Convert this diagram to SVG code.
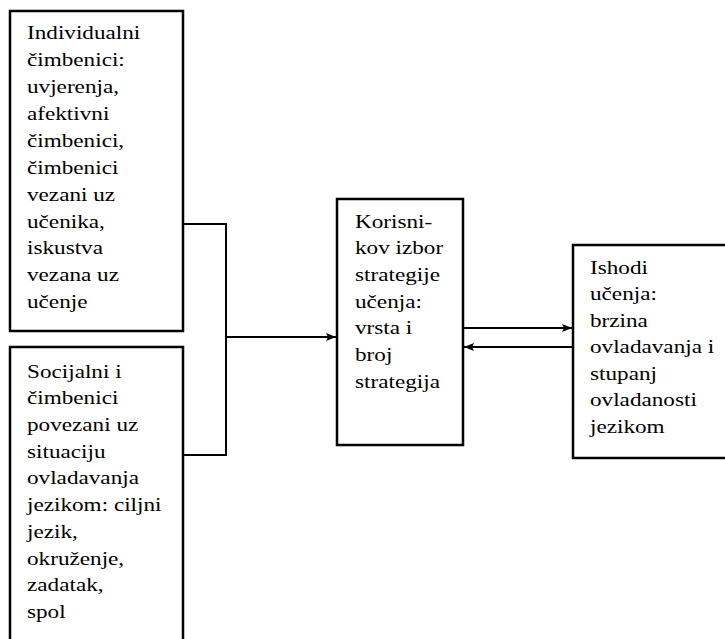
<svg xmlns="http://www.w3.org/2000/svg" width="725" height="639" viewBox="0 0 725 639">
<defs>
<style>
.box{fill:#fff;stroke:#000;stroke-width:2.5}
.lbl{font-family:"Liberation Serif","Times New Roman",serif;font-size:19px;fill:#000}
.con{fill:none;stroke:#000;stroke-width:2}
</style>
<marker id="ah" viewBox="0 0 10 8" refX="10" refY="4" markerWidth="10" markerHeight="8" markerUnits="userSpaceOnUse" orient="auto">
<path d="M0,0 L10,4 L0,8 L2,4 Z" fill="#000"/>
</marker>
</defs>
<rect width="725" height="639" fill="#fff"/>
<g id="connectors">
<path class="con" d="M183,224 H226 V455 H183"/>
<path class="con" d="M226,337 H336" marker-end="url(#ah)"/>
<path class="con" d="M463,328 H572" marker-end="url(#ah)"/>
<path class="con" d="M573,347 H464" marker-end="url(#ah)"/>
</g>
<g id="individualni">
<rect class="box" x="10" y="11" width="173" height="320"/>
<text class="lbl" transform="matrix(1.22 0 0 1 27 39.3)">
<tspan x="0" y="0">Individualni</tspan>
<tspan x="0" dy="26.9">čimbenici:</tspan>
<tspan x="0" dy="26.9">uvjerenja,</tspan>
<tspan x="0" dy="26.9">afektivni</tspan>
<tspan x="0" dy="26.9">čimbenici,</tspan>
<tspan x="0" dy="26.9">čimbenici</tspan>
<tspan x="0" dy="26.9">vezani uz</tspan>
<tspan x="0" dy="26.9">učenika,</tspan>
<tspan x="0" dy="26.9">iskustva</tspan>
<tspan x="0" dy="26.9">vezana uz</tspan>
<tspan x="0" dy="26.9">učenje</tspan>
</text>
</g>
<g id="socijalni">
<rect class="box" x="10" y="347" width="173" height="310"/>
<text class="lbl" transform="matrix(1.22 0 0 1 27 377.7)">
<tspan x="0" y="0">Socijalni i</tspan>
<tspan x="0" dy="26.7">čimbenici</tspan>
<tspan x="0" dy="26.7">povezani uz</tspan>
<tspan x="0" dy="26.7">situaciju</tspan>
<tspan x="0" dy="26.7">ovladavanja</tspan>
<tspan x="0" dy="26.7">jezikom: ciljni</tspan>
<tspan x="0" dy="26.7">jezik,</tspan>
<tspan x="0" dy="26.7">okruženje,</tspan>
<tspan x="0" dy="26.7">zadatak,</tspan>
<tspan x="0" dy="26.7">spol</tspan>
</text>
</g>
<g id="izbor">
<rect class="box" x="337" y="199" width="126" height="246"/>
<text class="lbl" transform="matrix(1.22 0 0 1 355 227.7)">
<tspan x="0" y="0">Korisni-</tspan>
<tspan x="0" dy="26.7">kov izbor</tspan>
<tspan x="0" dy="26.7">strategije</tspan>
<tspan x="0" dy="26.7">učenja:</tspan>
<tspan x="0" dy="26.7">vrsta i</tspan>
<tspan x="0" dy="26.7">broj</tspan>
<tspan x="0" dy="26.7">strategija</tspan>
</text>
</g>
<g id="ishodi">
<rect class="box" x="573" y="245" width="170" height="213"/>
<text class="lbl" transform="matrix(1.22 0 0 1 590 274)">
<tspan x="0" y="0">Ishodi</tspan>
<tspan x="0" dy="26.5">učenja:</tspan>
<tspan x="0" dy="26.5">brzina</tspan>
<tspan x="0" dy="26.5">ovladavanja i</tspan>
<tspan x="0" dy="26.5">stupanj</tspan>
<tspan x="0" dy="26.5">ovladanosti</tspan>
<tspan x="0" dy="26.5">jezikom</tspan>
</text>
</g>
</svg>
